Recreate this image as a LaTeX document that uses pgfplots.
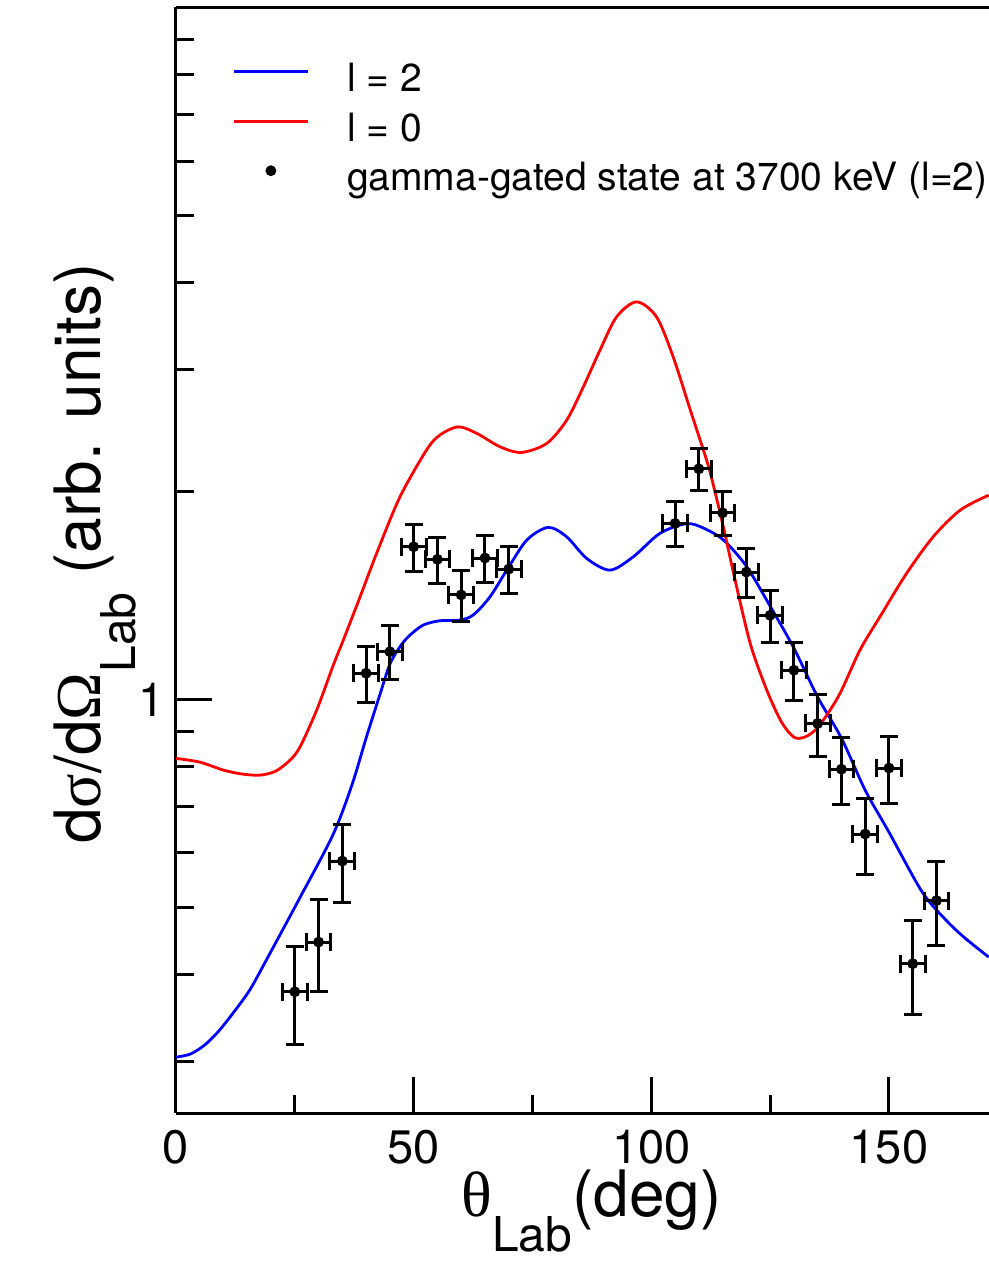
\documentclass[border=0pt]{standalone}
\usepackage{pgfplots}
\pgfplotsset{compat=1.18}
\usepackage{fontspec}
\setmainfont{TeX Gyre Heros}
\newfontfamily\greek{Liberation Serif}
\definecolor{cblue}{RGB}{0,0,255}
\definecolor{cred}{RGB}{255,0,0}
\begin{document}
\begin{tikzpicture}
\begin{axis}[
  scale only axis,
  width=406.5pt, height=552.75pt,
  xmin=0, xmax=171.05,
  ymode=log, ymin=0.2525, ymax=10,
  axis x line*=bottom, axis y line*=left,
  axis line style={line width=1.5pt},
  every tick/.style={black, line width=1.5pt},
  tick align=inside,
  major tick length=18pt, minor tick length=9pt,
  xtick={0,50,100,150}, minor xtick={25,75,125},
  ytick={1}, yticklabels={1},
  minor ytick={0.3,0.4,0.5,0.6,0.7,0.8,0.9,2,3,4,5,6,7,8,9},
  ticklabel style={font=\fontsize{23.5}{27}\selectfont},
  /pgf/number format/assume math mode=true,
  xticklabel style={yshift=-5pt, text depth=0pt},
  yticklabel style={xshift=-2pt},
  xlabel={{\greek θ}\raisebox{-17.5pt}{\fontsize{24}{26}\selectfont Lab}(deg)},
  ylabel={d{\greek σ}/d{\greek Ω}\raisebox{-17.5pt}{\fontsize{24}{26}\selectfont Lab} (arb. units)},
  label style={font=\fontsize{32}{36}\selectfont},
  xlabel style={at={(axis description cs:0.511,-0.0935)}, anchor=base},
  ylabel style={at={(axis description cs:-0.093,0.5063)}, anchor=base},
  legend cell align=left,
  legend style={draw=none, fill=none, at={(axis description cs:0.069,0.9495)}, anchor=north west,
    font=\fontsize{19.5}{22}\selectfont, inner sep=0pt, row sep=6.75pt,
    nodes={inner sep=0pt, text height=14pt, text depth=4pt},
    /tikz/column sep=19pt},
  legend image code/.code={\draw[#1] (0pt,5pt) -- (37pt,5pt);},
  extra description/.code={\draw[line width=1.5pt] (axis description cs:0,1) -- (axis description cs:1,1);},
]
\addplot[cblue, line width=1.4pt, smooth] coordinates {
(0,0.3041) (3,0.3072) (6,0.3165) (9,0.3317) (12,0.3521) (15.5,0.3801) (19,0.4200)
(26,0.5158) (33,0.6368) (37,0.7516)
(40,0.8792) (43,1.0212) (45,1.1246) (47.1,1.1912) (49,1.2345) (52,1.2806) (55.5,1.2992)
(59.7,1.3022) (62.5,1.3240) (66,1.4051) (69.6,1.5378) (73.8,1.6992) (78.3,1.7727)
(82.2,1.7179) (86.4,1.5989) (91.3,1.5378) (96.2,1.6074) (101.8,1.7376) (107.4,1.7950)
(111,1.7683) (115.2,1.6992) (120,1.558) (125,1.364) (130,1.186) (135,1.008) (140,0.8792)
(145,0.7394) (150,0.6430) (157,0.5267) (162,0.4798) (166,0.4519) (171,0.4242)
};
\addlegendentry{l = 2}
\addplot[cred, line width=1.4pt, smooth] coordinates {
(0,0.8218) (5,0.8117) (10,0.7904) (14,0.7800) (17.7,0.7774) (21,0.7879) (24,0.8172)
(26.1,0.8540) (29.6,0.9650)
(33.1,1.1210) (35.2,1.2181) (38.7,1.4051) (42.2,1.6255) (47.1,1.9609) (52.7,2.2925)
(55.5,2.4097) (59.4,2.4772) (63.3,2.4236) (68.2,2.3177) (72.7,2.2749) (78.0,2.3441)
(82.2,2.5331) (85.7,2.8296) (89.2,3.1972) (92.7,3.5720) (96.9,3.7548) (101.1,3.5720)
(104.6,3.1266) (108.1,2.6335) (110.2,2.3787) (112.3,2.1386) (115.2,1.7710) (117.3,1.5224)
(120.8,1.2058) (124.3,1.0314) (127.4,0.9272) (130,0.8822) (132,0.8808) (134.1,0.8979)
(136.2,0.9334) (139.7,1.0202) (143.9,1.1782) (148.1,1.3164) (153.7,1.5209)
(159.3,1.7179) (165.0,1.8777) (171,1.9737)
};
\addlegendentry{l = 0}
\addplot[black, only marks, mark=*, mark size=2.5pt,
  legend image code/.code={\fill[black] (18.5pt,5pt) circle (2.5pt);},
  error bars/.cd, x dir=both, x explicit, y dir=both, y explicit,
  error bar style={line width=1.5pt},
  error mark options={rotate=90, line width=1.5pt, mark size=4.5pt}]
  table[x=x, y=y, x error=ex, y error=ey] {
x y ex ey
25 0.378 2.6 0.061
30 0.446 2.6 0.068
35 0.584 2.6 0.076
40 1.091 2.6 0.102
45 1.172 2.6 0.105
50 1.662 2.6 0.129
55 1.594 2.6 0.122
60 1.416 2.6 0.118
65 1.601 2.6 0.124
70 1.543 2.6 0.122
105 1.796 2.6 0.135
110 2.154 2.6 0.150
115 1.861 2.6 0.135
120 1.528 2.6 0.122
125 1.323 2.6 0.113
130 1.102 2.6 0.105
135 0.923 2.6 0.095
140 0.793 2.6 0.089
145 0.639 2.6 0.080
150 0.796 2.6 0.089
155 0.415 2.6 0.064
160 0.512 2.6 0.071
};
\addlegendentry{gamma-gated state at 3700 keV (l=2)}
\coordinate (O) at (rel axis cs:0,0);
\coordinate (T) at (rel axis cs:1,1);
\end{axis}
\pgfresetboundingbox
\path[use as bounding box] ([xshift=-88pt,yshift=-75.5pt]O) rectangle ([yshift=3.75pt]T);
\end{tikzpicture}
\end{document}
